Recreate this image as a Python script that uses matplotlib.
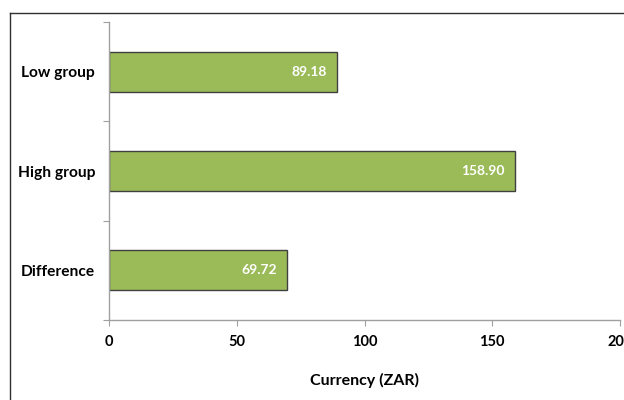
import matplotlib.pyplot as plt
from matplotlib.lines import Line2D

categories = ['Low group', 'High group', 'Difference']
values = [89.18, 158.90, 69.72]
value_labels = ['89.18', '158.90', '69.72']

plt.rcParams['font.family'] = ['Lato', 'DejaVu Sans']
plt.rcParams['font.weight'] = 'bold'

fig = plt.figure(figsize=(6.24, 4.0), dpi=100)
ax = fig.add_axes([109 / 624, 80 / 400, 511 / 624, 298 / 400])

pos = [2, 1, 0]
ax.barh(pos, values, height=0.4, color='#9BBB59', edgecolor='#404040', linewidth=1.0)
for p, v, t in zip(pos, values, value_labels):
    ax.text(v - 4, p, t, color='white', fontsize=10, fontweight='bold',
            ha='right', va='center')

ax.set_xlim(0, 200)
ax.set_ylim(-0.5, 2.5)
ax.set_xticks([0, 50, 100, 150, 200])
ax.set_xticklabels(['0', '50', '100', '150', '200'], fontsize=10.5, fontweight='bold')
ax.set_yticks([-0.5, 0.5, 1.5, 2.5])
ax.set_yticklabels([])
ax.set_yticks(pos, minor=True)
ax.set_yticklabels(categories, minor=True, fontsize=11.2, fontweight='bold')
ax.tick_params(axis='y', which='minor', length=0, pad=10)
ax.tick_params(axis='y', which='major', length=4, color='#a0a0a0', direction='out')
ax.tick_params(axis='x', length=4, color='#a0a0a0', direction='out', pad=7)
for s in ['top', 'right']:
    ax.spines[s].set_visible(False)
for s in ['left', 'bottom']:
    ax.spines[s].set_color('#a0a0a0')
    ax.spines[s].set_linewidth(1.0)
ax.set_xlabel('Currency (ZAR)', fontsize=11.5, fontweight='bold', labelpad=17)

fig.add_artist(Line2D([10 / 624, 10 / 624], [0, 1 - 13 / 400], color='#303030', lw=1.0))
fig.add_artist(Line2D([10 / 624, 1], [1 - 13 / 400, 1 - 13 / 400], color='#303030', lw=1.0))

fig.savefig('out.png', dpi=100)
